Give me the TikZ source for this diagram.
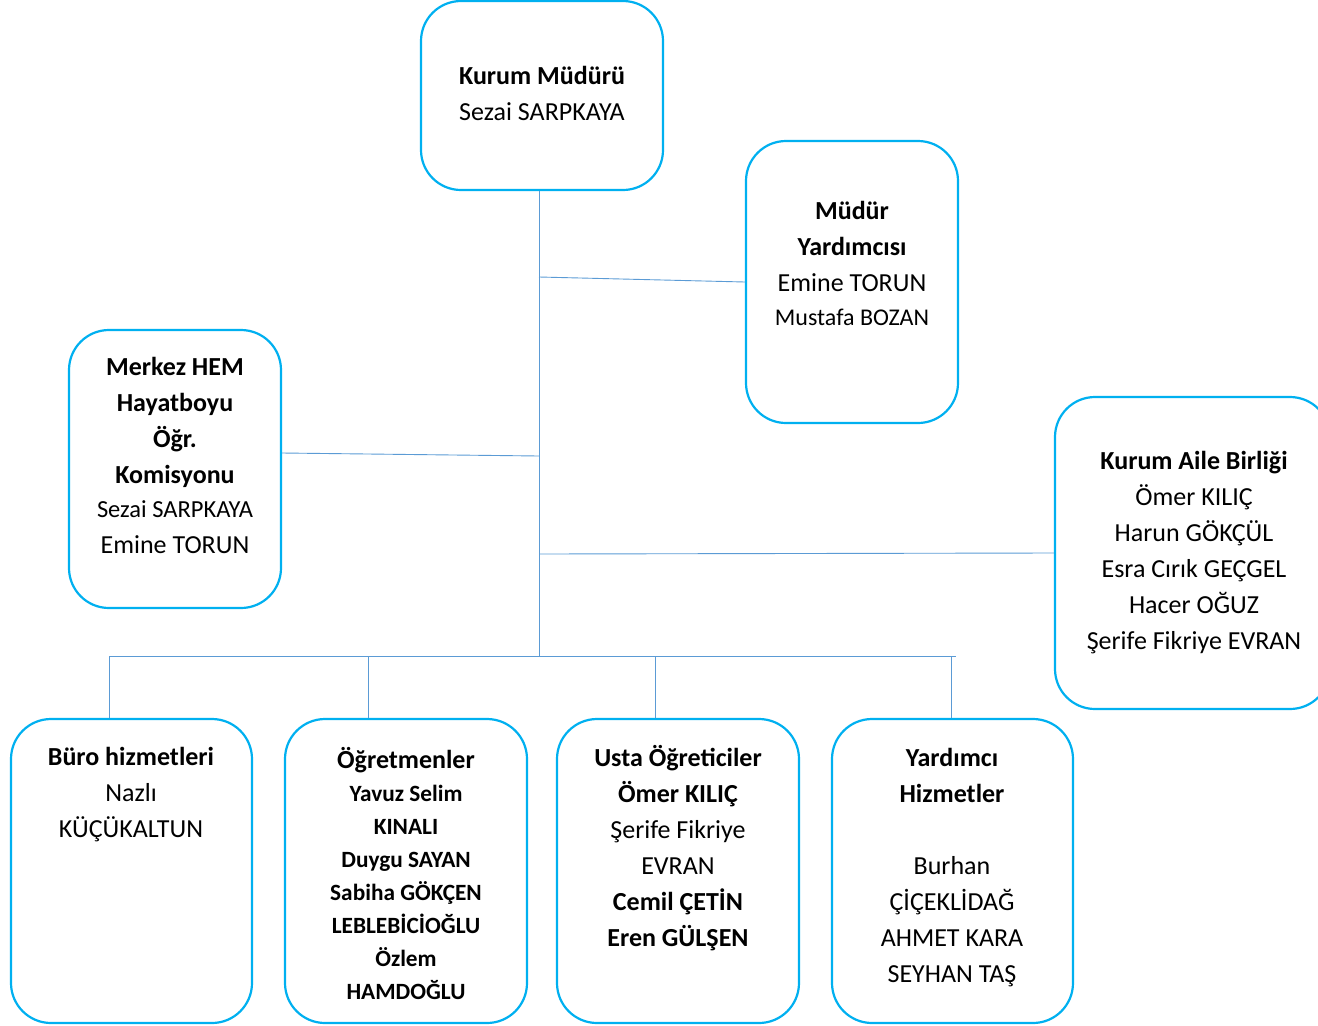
\documentclass[tikz,border=0pt]{standalone}
\usepackage{fontspec}
\setmainfont{Carlito}
\definecolor{boxblue}{HTML}{00B0F0}
\definecolor{linkblue}{HTML}{5B9BD5}
\newcommand{\lgfont}{\fontsize{26}{36}\selectfont}
\newcommand{\smfont}{\fontsize{23.3}{33}\selectfont}
\tikzset{
  unitbox/.style={draw=boxblue, line width=2.2pt, rounded corners=40pt, inner sep=0pt, fill=white},
  unittext/.style={align=center, inner sep=0pt, font=\lgfont},
  link/.style={draw=linkblue, line width=0.9pt}
}
\begin{document}
\begin{tikzpicture}[x=1pt, y=-1pt]
  \useasboundingbox (0,0) rectangle (1318,1026);

  % kutular
  \node[unitbox, minimum width=242pt, minimum height=189pt] (km) at (542,95.5) {};
  \node[unitbox, minimum width=212pt, minimum height=282pt] (my) at (852,282) {};
  \node[unitbox, minimum width=212pt, minimum height=278pt] (hem) at (175,469) {};
  \node[unitbox, minimum width=275pt, minimum height=312pt] (kab) at (1192.5,553) {};
  \node[unitbox, minimum width=241pt, minimum height=304pt] (bur) at (131.5,871) {};
  \node[unitbox, minimum width=242pt, minimum height=304pt] (ogr) at (406,871) {};
  \node[unitbox, minimum width=242pt, minimum height=304pt] (usta) at (678,871) {};
  \node[unitbox, minimum width=241pt, minimum height=304pt] (yrd) at (952.5,871) {};

  % yazilar
  \node[unittext] (kmtxt) at (542,93) {\textbf{Kurum Müdürü}\\Sezai SARPKAYA};
  \node[unittext] (mytxt) at (852,263) {\textbf{Müdür}\\\textbf{Yardımcısı}\\Emine TORUN\\[-2pt]{\fontsize{24}{34}\selectfont Mustafa BOZAN}};
  \node[unittext] (hemtxt) at (175,455) {\textbf{Merkez HEM}\\\textbf{Hayatboyu}\\\textbf{Öğr.}\\\textbf{Komisyonu}\\[-2pt]{\fontsize{24.5}{34}\selectfont Sezai SARPKAYA}\\Emine TORUN};
  \node[unittext] (kabtxt) at (1194,553) {\textbf{Kurum Aile Birliği}\\Ömer KILIÇ\\Harun GÖKÇÜL\\Esra Cırık GEÇGEL\\Hacer OĞUZ\\Şerife Fikriye EVRAN};
  \node[unittext] (burtxt) at (131,795) {\textbf{Büro hizmetleri}\\Nazlı\\KÜÇÜKALTUN};
  \node[unittext, font=\smfont\bfseries] (ogrtxt) at (406,873) {{\lgfont Öğretmenler}\\[0pt]Yavuz Selim\\KINALI\\Duygu SAYAN\\Sabiha GÖKÇEN\\LEBLEBİCİOĞLU\\Özlem\\HAMDOĞLU};
  \node[unittext] (ustatxt) at (678,848) {\textbf{Usta Öğreticiler}\\\textbf{Ömer KILIÇ}\\Şerife Fikriye\\EVRAN\\\textbf{Cemil ÇETİN}\\\textbf{Eren GÜLŞEN}};
  \node[unittext] (yrdtxt) at (952,867.5) {\textbf{Yardımcı}\\\textbf{Hizmetler}\\[36pt]Burhan\\ÇİÇEKLİDAĞ\\AHMET KARA\\SEYHAN TAŞ};

  % baglantilar
  \coordinate (bus) at (539,656);
  \coordinate (jmy) at (539,277);
  \coordinate (jhem) at (539,456);
  \coordinate (jkab) at (539,554);
  \coordinate (d1) at (109,656);
  \coordinate (d2) at (368,656);
  \coordinate (d3) at (655,656);
  \coordinate (d4) at (951,656);
  \coordinate (busend) at (956,656);

  \draw[link] (bus |- km.south) -- (bus);
  \draw[link] (jmy) -- (my.west);
  \draw[link] ([yshift=16pt]hem.east) -- (jhem);
  \draw[link] (jkab) -- (kab.west);
  \draw[link] (d1) -- (busend);
  \draw[link] (d1) -- (d1 |- bur.north);
  \draw[link] (d2) -- (d2 |- ogr.north);
  \draw[link] (d3) -- (d3 |- usta.north);
  \draw[link] (d4) -- (d4 |- yrd.north);
\end{tikzpicture}
\end{document}
